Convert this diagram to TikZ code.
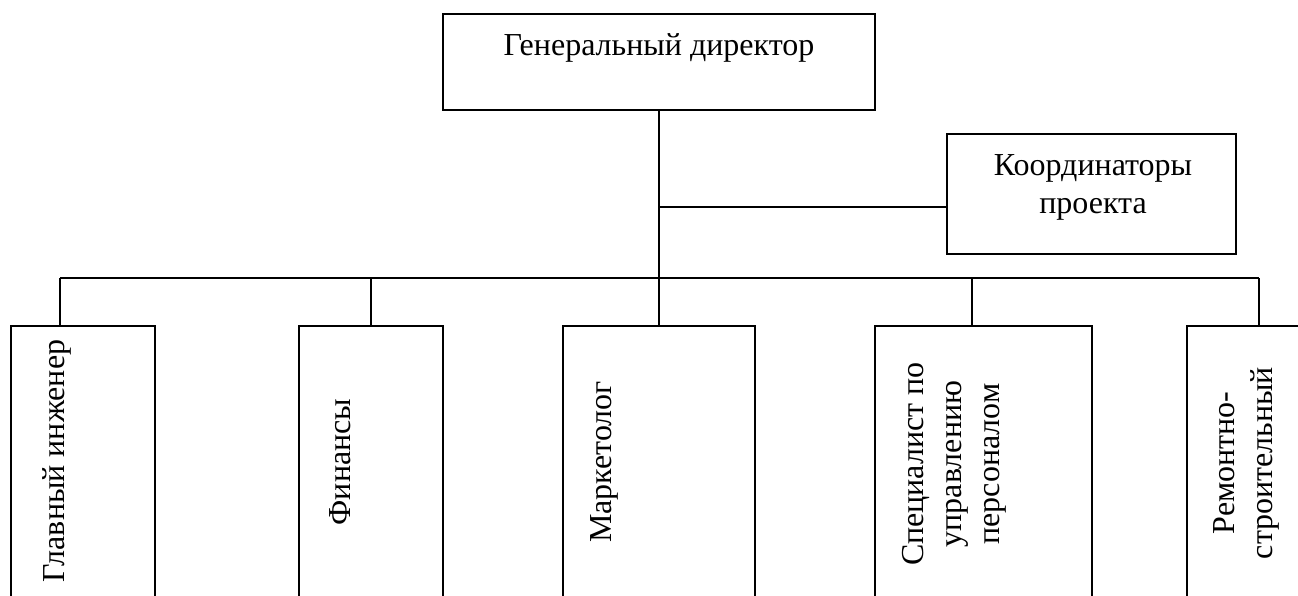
\documentclass[tikz,border=0pt]{standalone}
\usepackage{fontspec}
\setmainfont{Liberation Serif}
\newfontfamily\rufont{Liberation Serif}
\begin{document}
\begin{tikzpicture}[x=1pt,y=-1pt,
  box/.style={draw=black,line width=1.8pt,fill=white,rectangle,inner sep=0pt},
  lbl/.style={inner sep=0pt,align=center,font=\rufont\fontsize{32}{38}\selectfont},
  vlbl/.style={lbl,rotate=90},
  conn/.style={draw=black,line width=1.8pt}]
\useasboundingbox (0,0) rectangle (1298,595);
\clip (0,0) rectangle (1298,595);
% boxes
\node[box,minimum width=432pt,minimum height=96pt] (gd) at (659,62) {};
\node[box,minimum width=289pt,minimum height=120pt] (coord) at (1091.5,194) {};
\node[box,minimum width=144pt,minimum height=374pt] (b1) at (83,513) {};
\node[box,minimum width=144pt,minimum height=374pt] (b2) at (371,513) {};
\node[box,minimum width=192pt,minimum height=374pt] (b3) at (659,513) {};
\node[box,minimum width=217pt,minimum height=374pt] (b4) at (983.5,513) {};
\node[box,minimum width=213pt,minimum height=374pt] (b5) at (1293.5,513) {};
% texts
\node[lbl] (gdt) at (659,48) {Генеральный директор};
\node[lbl] (coordt) at (1093,187) {Координаторы\\проекта};
\node[vlbl] (t1) at (57,461) {Главный инженер};
\node[vlbl] (t2) at (340,462) {Финансы};
\node[vlbl] (t3) at (604,462) {Маркетолог};
\node[vlbl] (t4) at (954,464) {Специалист по\\управлению\\персоналом};
\node[vlbl] (t5) at (1246,463) {Ремонтно-\\строительный};
% connectors
\coordinate (cj) at (659,207);
\coordinate (J1) at (60,278);
\coordinate (J2) at (371,278);
\coordinate (J4) at (972,278);
\coordinate (J5) at (1259,278);
\coordinate (m1) at (1212,278);
\coordinate (m2) at (1235,278);
\draw[conn] (gd.south) -- (b3.north);
\draw[conn] (cj) -- (cj -| coord.west);
\draw[conn] (J1) -- (J5);
\draw[conn] (J1) -- (J1 |- b1.north);
\draw[conn] (J2) -- (J2 |- b2.north);
\draw[conn] (J4) -- (J4 |- b4.north);
\draw[conn] (J5) -- (J5 |- b5.north);
\draw[draw=black,line width=2.6pt] (m1) -- (m2);
\end{tikzpicture}
\end{document}
